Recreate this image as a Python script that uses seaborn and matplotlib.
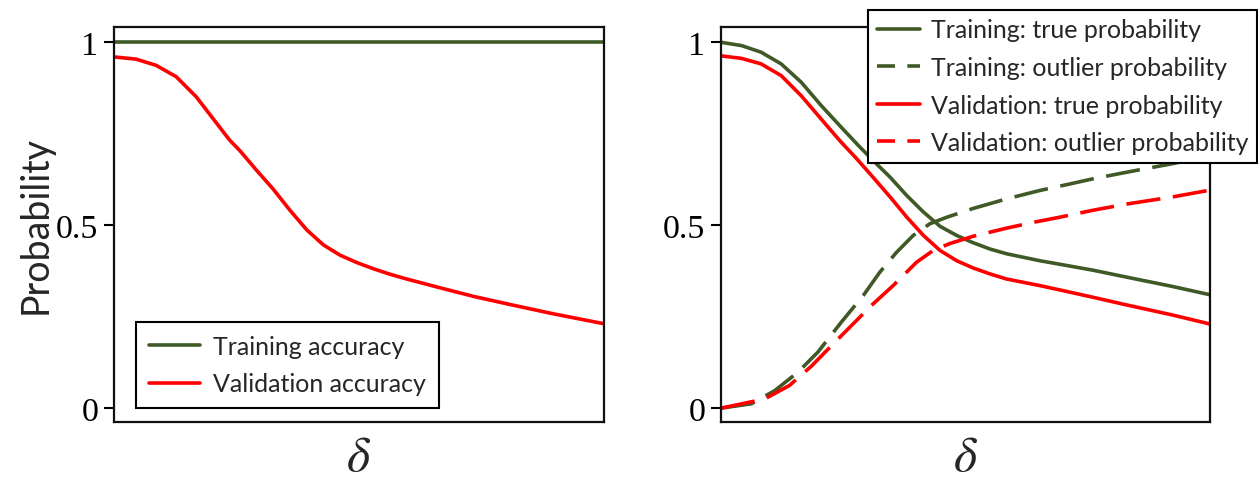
import pandas as pd
import matplotlib
matplotlib.use("Agg")
import matplotlib.pyplot as plt
from matplotlib.lines import Line2D
import seaborn as sns

# ---- data ----
x_val_acc = [0.0, 0.045, 0.086, 0.127, 0.168, 0.202, 0.236, 0.257, 0.292, 0.325,
             0.360, 0.394, 0.428, 0.462, 0.496, 0.530, 0.564, 0.598, 0.666, 0.736,
             0.817, 0.897, 1.0]
val_acc = [0.960, 0.954, 0.937, 0.906, 0.851, 0.792, 0.733, 0.704, 0.649, 0.599,
           0.540, 0.487, 0.446, 0.418, 0.398, 0.381, 0.366, 0.353, 0.329, 0.305,
           0.281, 0.258, 0.231]
x_train_acc = [0.0, 1.0]
train_acc = [1.0, 1.0]

x_true = [0.0, 0.042, 0.082, 0.123, 0.164, 0.205, 0.243, 0.278, 0.311, 0.346,
          0.380, 0.414, 0.448, 0.482, 0.516, 0.550, 0.584, 0.652, 0.690, 0.761,
          0.830, 0.922, 1.0]
train_true = [1.0, 0.991, 0.973, 0.941, 0.891, 0.827, 0.772, 0.722, 0.677, 0.631,
              0.581, 0.536, 0.497, 0.472, 0.452, 0.435, 0.422, 0.403, 0.394, 0.377,
              0.358, 0.333, 0.310]
val_true = [0.963, 0.956, 0.941, 0.909, 0.854, 0.790, 0.731, 0.681, 0.631, 0.577,
            0.522, 0.472, 0.431, 0.403, 0.383, 0.367, 0.353, 0.335, 0.324, 0.303,
            0.282, 0.255, 0.230]

x_train_out = [0.0, 0.062, 0.110, 0.157, 0.198, 0.246, 0.291, 0.325, 0.359, 0.393,
               0.427, 0.462, 0.516, 0.584, 0.652, 0.714, 0.761, 0.830, 0.922, 1.0]
train_out = [0.0, 0.012, 0.048, 0.098, 0.153, 0.235, 0.308, 0.372, 0.426, 0.472,
             0.504, 0.522, 0.546, 0.572, 0.595, 0.613, 0.627, 0.645, 0.668, 0.690]
x_val_out = [0.0, 0.089, 0.140, 0.185, 0.226, 0.267, 0.307, 0.352, 0.400, 0.434,
             0.468, 0.516, 0.584, 0.639, 0.693, 0.761, 0.830, 0.922, 1.0]
val_out = [0.0, 0.025, 0.062, 0.115, 0.171, 0.226, 0.280, 0.335, 0.399, 0.431,
           0.450, 0.470, 0.492, 0.508, 0.522, 0.541, 0.558, 0.577, 0.596]

left_labels = ["Training accuracy", "Validation accuracy"]
right_labels = ["Training: true probability", "Training: outlier probability",
                "Validation: true probability", "Validation: outlier probability"]
ytick_vals = [0, 0.5, 1]
ytick_text = ["0", "0.5", "1"]

GREEN = "#3f5a27"
RED = "#ff0000"


def long_df(pairs, labels):
    frames = [pd.DataFrame({"x": xs, "y": ys, "series": lab})
              for (xs, ys), lab in zip(pairs, labels)]
    return pd.concat(frames, ignore_index=True)


df_left = long_df([(x_train_acc, train_acc), (x_val_acc, val_acc)], left_labels)
df_right = long_df([(x_true, train_true), (x_train_out, train_out),
                    (x_true, val_true), (x_val_out, val_out)], right_labels)

sns.set_style("ticks")
plt.rcParams["font.family"] = ["Lato", "DejaVu Sans"]
plt.rcParams["mathtext.fontset"] = "stix"

W, H = 1258, 481
fig = plt.figure(figsize=(W / 100, H / 100), dpi=100)
ax_y0 = 1 - 422.7 / H
ax_h = 394.4 / H
axL = fig.add_axes([114 / W, ax_y0, 489.5 / W, ax_h])
axR = fig.add_axes([721 / W, ax_y0, 489 / W, ax_h])

lw = 2.6
plot_dash = (9.5, 3.5)
leg_dash = (5.0, 3.4)

sns.lineplot(data=df_left, x="x", y="y", hue="series", palette=[GREEN, RED],
             ax=axL, linewidth=lw, legend=False, sort=False)
sns.lineplot(data=df_right, x="x", y="y", hue="series", style="series",
             palette=[GREEN, GREEN, RED, RED],
             dashes={right_labels[0]: "", right_labels[1]: plot_dash,
                     right_labels[2]: "", right_labels[3]: plot_dash},
             ax=axR, linewidth=lw, legend=False, sort=False)

for ax in (axL, axR):
    ax.set_xlim(0, 1)
    ax.set_ylim(-0.037, 1.041)
    ax.set_xticks([])
    ax.set_yticks(ytick_vals)
    ax.set_yticklabels(ytick_text, fontfamily="Liberation Serif", fontsize=24.5)
    ax.tick_params(axis="y", length=7.2, width=1.5, pad=4, color="black",
                   labelcolor="black")
    for s in ax.spines.values():
        s.set_linewidth(1.6)
        s.set_color("#111111")
        s.set_visible(True)
    ax.set_xlabel(r"$\delta$", fontsize=36, labelpad=8)
    ax.set_ylabel("")

axL.set_ylabel("Probability", fontsize=27, labelpad=2)

fs = 18
hL = [Line2D([], [], color=GREEN, lw=lw), Line2D([], [], color=RED, lw=lw)]
legL = axL.legend(hL, left_labels, loc="lower left",
                  bbox_to_anchor=(135.7 / W, (H - 409.3) / H),
                  bbox_transform=fig.transFigure, borderaxespad=0,
                  fontsize=fs, frameon=True, fancybox=False, edgecolor="black",
                  framealpha=1, handlelength=2.05, handletextpad=0.52,
                  borderpad=0.52, labelspacing=0.58)
legL.get_frame().set_linewidth(1.5)

hR = [Line2D([], [], color=GREEN, lw=lw),
      Line2D([], [], color=GREEN, lw=lw, dashes=leg_dash),
      Line2D([], [], color=RED, lw=lw),
      Line2D([], [], color=RED, lw=lw, dashes=leg_dash)]
legR = axR.legend(hR, right_labels, loc="upper right",
                  bbox_to_anchor=(1257 / W, 1 - 11 / H),
                  bbox_transform=fig.transFigure, borderaxespad=0,
                  fontsize=fs, frameon=True, fancybox=False, edgecolor="black",
                  framealpha=1, handlelength=1.72, handletextpad=0.46,
                  borderpad=0.34, labelspacing=0.58)
legR.get_frame().set_linewidth(1.5)

fig.savefig("out.png", dpi=100)
